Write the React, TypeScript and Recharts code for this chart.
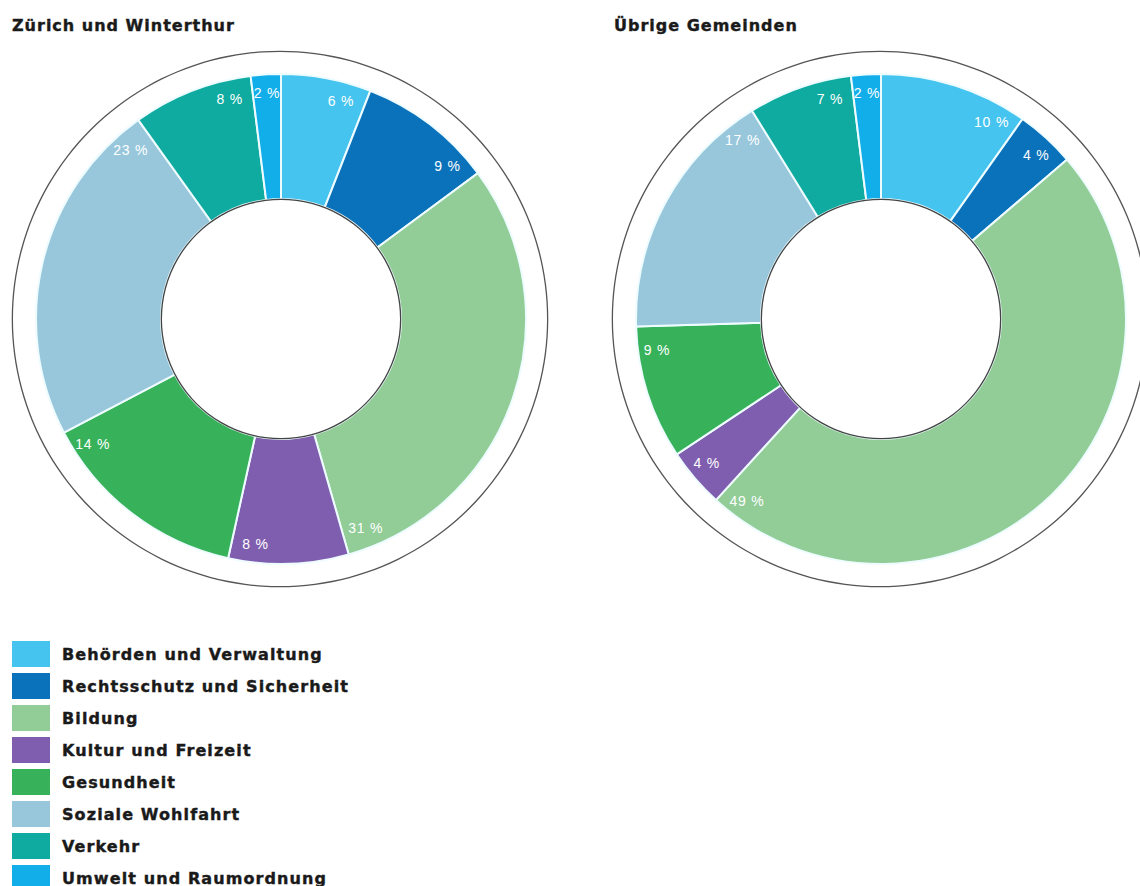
import { Cell, Legend, Pie, PieChart } from "recharts";

// Kategorien (Reihenfolge im Uhrzeigersinn ab 12 Uhr)
const categories = [
  "Behörden und Verwaltung",
  "Rechtsschutz und Sicherheit",
  "Bildung",
  "Kultur und Freizeit",
  "Gesundheit",
  "Soziale Wohlfahrt",
  "Verkehr",
  "Umwelt und Raumordnung",
];

const colors = [
  "#45C4EF",
  "#0A72BA",
  "#92CD98",
  "#7F5EAF",
  "#37B25A",
  "#98C7DC",
  "#10ABA0",
  "#11AEEA",
];

// Anteile in %
const zuerichValues = [6, 9, 31, 8, 14, 23, 8, 2];
const uebrigeValues = [10, 4, 49, 4, 9, 17, 7, 2];

const titles = ["Zürich und Winterthur", "Übrige Gemeinden"];

const zuerichData = categories.map((name, i) => ({ name, value: zuerichValues[i] }));
const uebrigeData = categories.map((name, i) => ({ name, value: uebrigeValues[i] }));
const ringData = [{ name: "ring", value: 1 }];

const HEAVY = "'DejaVu Sans', Verdana, sans-serif";

// Beschriftung nahe am Ende des Segments (im Uhrzeigersinn)
const renderLabel = (props: any) => {
  const { cx, cy, startAngle, endAngle, outerRadius, value } = props;
  const span = Math.abs(startAngle - endAngle);
  const a = Math.min(startAngle, endAngle) + Math.min(6, span / 2);
  const r = outerRadius - 19;
  const rad = (a * Math.PI) / 180;
  const x = cx + r * Math.cos(rad);
  const y = cy - r * Math.sin(rad);
  return (
    <text
      x={x}
      y={y}
      fill="#ffffff"
      textAnchor="middle"
      dominantBaseline="central"
      fontSize={14}
      letterSpacing={0.8}
      fontFamily="'Liberation Sans', Arial, sans-serif"
    >
      {`${value} %`}
    </text>
  );
};

const renderLegend = () => (
  <div style={{ fontFamily: HEAVY }}>
    {categories.map((c, i) => (
      <div key={c} style={{ display: "flex", alignItems: "center", height: 32 }}>
        <div style={{ width: 38, height: 26, background: colors[i], marginRight: 12 }} />
        <span
          style={{
            fontSize: 16,
            fontWeight: 700,
            letterSpacing: 1.1,
            color: "#1a1a1a",
            WebkitTextStroke: "0.4px #1a1a1a",
          }}
        >
          {c}
        </span>
      </div>
    ))}
  </div>
);

const titleStyle = {
  fontFamily: HEAVY,
  fontWeight: 700,
  fontSize: 16,
  letterSpacing: 1,
  fill: "#1a1a1a",
  stroke: "#1a1a1a",
  strokeWidth: 0.4,
};

export default function App() {
  const centers = [
    { cx: 281, cy: 319, data: zuerichData },
    { cx: 881, cy: 319, data: uebrigeData },
  ];
  return (
    <div style={{ position: "absolute", left: 0, top: 0, width: 1140, height: 886, background: "#fff" }}>
      <PieChart width={1140} height={886} margin={{ top: 0, right: 0, bottom: 0, left: 0 }}>
        <text x={12} y={31} style={titleStyle}>
          {titles[0]}
        </text>
        <text x={614} y={31} style={titleStyle}>
          {titles[1]}
        </text>
        {centers.map((c, k) => (
          <Pie
            key={`ring-${k}`}
            data={ringData}
            dataKey="value"
            cx={c.cx - 1}
            cy={c.cy}
            innerRadius={267}
            outerRadius={268.3}
            fill="#555"
            stroke="none"
            legendType="none"
            isAnimationActive={false}
          />
        ))}
        {centers.map((c, k) => (
          <Pie
            key={`pie-${k}`}
            data={c.data}
            dataKey="value"
            nameKey="name"
            cx={c.cx}
            cy={c.cy}
            startAngle={90}
            endAngle={-270}
            innerRadius={120}
            outerRadius={245}
            stroke="#eefcff"
            strokeWidth={2}
            label={renderLabel}
            labelLine={false}
            isAnimationActive={false}
          >
            {c.data.map((d: any, i: number) => (
              <Cell key={`cell-${k}-${d.name}`} fill={colors[i]} />
            ))}
          </Pie>
        ))}
        {centers.map((c, k) => (
          <Pie
            key={`hole-${k}`}
            data={ringData}
            dataKey="value"
            cx={c.cx}
            cy={c.cy}
            innerRadius={119}
            outerRadius={120.3}
            fill="#444"
            stroke="none"
            legendType="none"
            isAnimationActive={false}
          />
        ))}
        <Legend
          content={renderLegend}
          wrapperStyle={{ position: "absolute", left: 12, top: 638, width: 420 }}
        />
      </PieChart>
    </div>
  );
}
